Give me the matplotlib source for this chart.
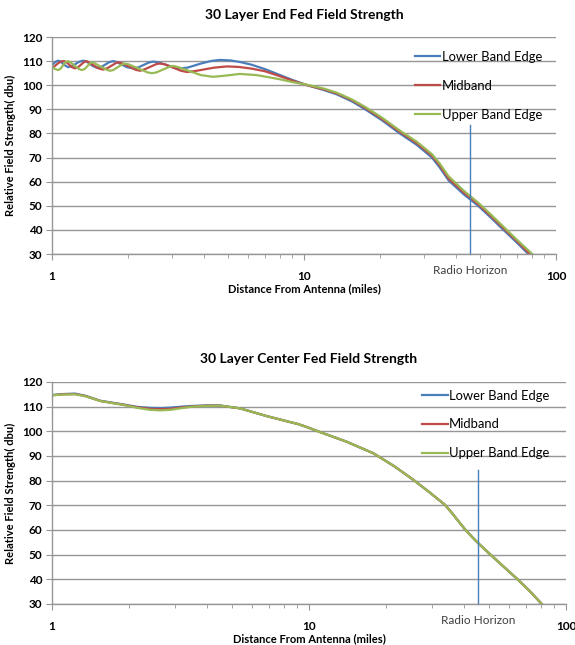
import numpy as np
import matplotlib.pyplot as plt
from matplotlib.ticker import FixedLocator, NullFormatter

plt.rcParams['font.family'] = ['Lato', 'DejaVu Sans']

# ---- 30 layer end fed (top chart) ----
end_lower_x = [1.00, 1.03, 1.056, 1.08, 1.12, 1.157, 1.20, 1.28, 1.328, 1.37, 1.45, 1.51,
               1.57, 1.69, 1.746, 1.80, 1.98, 2.095, 2.20, 2.42, 2.52, 2.65, 3.00, 3.22,
               3.45, 3.90, 4.30, 4.64, 5.10, 5.60, 6.20, 7.00, 8.00, 9.00, 10.3, 12.0,
               13.5, 15.5, 17.5, 20.5, 24.0, 28.0, 32.2, 34.5, 37.5, 43.0, 49.1, 55.0,
               61.9, 69.5, 77.7]
end_lower_y = [108.3, 109.6, 110.2, 109.9, 108.4, 107.5, 107.9, 109.7, 110.2, 109.9, 108.0, 107.2,
               107.6, 109.6, 110.0, 109.7, 107.5, 107.0, 107.4, 109.4, 109.8, 109.5, 107.6, 107.0,
               107.3, 109.0, 110.1, 110.5, 110.3, 109.6, 108.5, 106.7, 104.3, 102.2, 100.0, 98.0,
               96.2, 93.3, 90.0, 85.3, 80.0, 75.3, 70.0, 66.0, 60.5, 54.8, 50.0, 45.2,
               40.0, 35.0, 30.0]

end_mid_x = [1.00, 1.06, 1.09, 1.116, 1.14, 1.20, 1.234, 1.27, 1.34, 1.364, 1.40, 1.53,
             1.594, 1.66, 1.80, 1.83, 1.90, 2.15, 2.235, 2.33, 2.60, 2.68, 2.80, 3.25,
             3.43, 3.70, 4.40, 4.94, 5.50, 6.20, 7.00, 8.00, 9.00, 10.3, 12.0, 13.5,
             15.5, 17.5, 20.5, 24.0, 28.0, 32.2, 34.5, 37.5, 43.0, 49.1, 55.0, 61.9,
             69.5, 78.8]
end_mid_y = [107.0, 109.2, 109.9, 110.0, 109.6, 107.5, 107.0, 107.5, 109.6, 110.0, 109.5, 107.0,
             106.5, 107.1, 109.3, 109.5, 109.1, 106.4, 106.0, 106.6, 108.8, 109.0, 108.7, 106.0,
             105.5, 105.9, 107.3, 107.8, 107.6, 106.9, 105.8, 103.8, 101.9, 100.0, 98.3,
             96.6, 93.8, 90.6, 85.9, 80.7, 76.0, 70.8, 66.9, 61.3, 55.6, 50.7, 45.9, 40.7,
             35.7, 30.0]

end_upper_x = [1.00, 1.03, 1.056, 1.08, 1.13, 1.157, 1.18, 1.28, 1.315, 1.35, 1.42, 1.44,
               1.47, 1.65, 1.70, 1.75, 1.91, 1.95, 2.01, 2.40, 2.49, 2.59, 2.95, 3.02,
               3.15, 3.90, 4.35, 4.80, 5.57, 6.50, 8.00, 9.00, 10.3, 12.0, 13.5, 15.5,
               17.5, 20.5, 24.0, 28.0, 32.2, 34.5, 37.5, 43.0, 49.1, 55.0, 61.9, 69.5,
               80.5]
end_upper_y = [107.7, 106.7, 106.3, 106.8, 109.5, 110.0, 109.6, 106.7, 106.3, 106.8, 109.2, 109.5,
               109.2, 106.4, 106.0, 106.3, 108.8, 109.0, 108.7, 105.3, 105.0, 105.3, 107.8, 108.0,
               107.6, 104.2, 103.5, 103.9, 104.7, 104.2, 102.5, 101.3, 100.2, 98.6, 96.9, 94.1,
               91.0, 86.4, 81.2, 76.6, 71.4, 67.6, 62.2, 56.3, 51.3, 46.5, 41.3, 36.2,
               30.0]

# ---- 30 layer center fed (bottom chart) ----
center_x = [1.00, 1.10, 1.23, 1.35, 1.54, 1.89, 2.15, 2.41, 2.65, 2.88, 3.20, 3.54,
            4.00, 4.50, 5.39, 6.83, 8.40, 9.10, 10.0, 11.37, 14.0, 17.8, 21.5, 25.5,
            29.5, 33.8, 36.0, 38.2, 40.5, 43.0, 45.5, 50.0, 56.0, 64.2, 72.0, 80.5]
center_lower_y = [114.7, 115.1, 115.3, 114.4, 112.4, 110.9, 109.9, 109.5, 109.4, 109.6, 110.0, 110.3,
                  110.5, 110.5, 109.3, 106.2, 103.8, 102.9, 101.4, 99.2, 95.8, 91.1, 85.8, 80.3,
                  75.2, 70.2, 66.9, 63.5, 60.2, 57.3, 54.7, 50.7, 46.0, 40.4, 35.4, 30.0]
center_mid_y = [114.6, 115.0, 115.1, 114.3, 112.3, 110.8, 109.7, 109.1, 109.0, 109.1, 109.7, 110.1,
                110.4, 110.4, 109.3, 106.2, 103.8, 102.9, 101.4, 99.2, 95.8, 91.1, 85.8, 80.3,
                75.2, 70.2, 66.9, 63.5, 60.2, 57.3, 54.7, 50.7, 46.0, 40.4, 35.4, 30.0]
center_upper_y = [114.6, 114.9, 115.0, 114.2, 112.3, 110.7, 109.5, 108.7, 108.5, 108.7, 109.4, 110.0,
                  110.3, 110.4, 109.3, 106.2, 103.8, 102.9, 101.4, 99.2, 95.8, 91.1, 85.8, 80.3,
                  75.2, 70.2, 66.9, 63.5, 60.2, 57.3, 54.7, 50.7, 46.0, 40.4, 35.4, 30.0]

labels = ['Lower Band Edge', 'Midband', 'Upper Band Edge']
colors = ['#4a7ebb', '#be4b48', '#98b954']
y_ticks = [30, 40, 50, 60, 70, 80, 90, 100, 110, 120]
horizon_miles = [45.6, 45.5]
horizon_top = [83.5, 84.3]


def style_axes(ax, title, title_pad):
    ax.set_xscale('log')
    ax.set_xlim(1, 100)
    ax.set_ylim(30, 120)
    ax.set_yticks(y_ticks)
    ax.xaxis.set_major_locator(FixedLocator([1, 10, 100]))
    ax.xaxis.set_minor_locator(FixedLocator([m * d for d in (1, 10) for m in range(2, 10)]))
    ax.xaxis.set_minor_formatter(NullFormatter())
    ax.set_xticklabels(['1', '10', '100'])
    ax.grid(axis='y', color='#969696', linewidth=1.0)
    ax.set_axisbelow(True)
    for s in ('top', 'right'):
        ax.spines[s].set_visible(False)
    for s in ('left', 'bottom'):
        ax.spines[s].set_color('#969696')
        ax.spines[s].set_linewidth(1.0)
    ax.tick_params(axis='both', which='both', colors='#969696', labelcolor='black')
    ax.tick_params(axis='y', length=4, labelsize=8.5, pad=3)
    ax.tick_params(axis='x', which='major', length=4, labelsize=8.5, pad=8)
    ax.tick_params(axis='x', which='minor', length=3)
    for lab in ax.get_xticklabels() + ax.get_yticklabels():
        lab.set_fontweight('bold')
    ax.set_title(title, fontsize=10, fontweight='bold', pad=title_pad)
    ax.set_xlabel('Distance From Antenna (miles)', fontsize=8, fontweight='bold', labelpad=1)
    ax.set_ylabel('Relative Field Strength( dbu)', fontsize=8, fontweight='bold', labelpad=4)


fig = plt.figure(figsize=(5.75, 6.45), dpi=100)
ax1 = fig.add_axes([0.0904, 0.6062, 0.8765, 0.3364])
ax2 = fig.add_axes([0.0904, 0.0636, 0.8939, 0.3442])

ax1.plot(end_lower_x, end_lower_y, color=colors[0], lw=1.6, label=labels[0])
ax1.plot(end_mid_x, end_mid_y, color=colors[1], lw=1.6, label=labels[1])
ax1.plot(end_upper_x, end_upper_y, color=colors[2], lw=1.6, label=labels[2])

ax2.plot(center_x, center_lower_y, color=colors[0], lw=1.6, label=labels[0])
ax2.plot(center_x, center_mid_y, color=colors[1], lw=1.6, label=labels[1])
ax2.plot(center_x, center_upper_y, color=colors[2], lw=1.6, label=labels[2])

style_axes(ax1, '30 Layer End Fed Field Strength', 13)
style_axes(ax2, '30 Layer Center Fed Field Strength', 14)

for ax, hx, ht, lx, ly in ((ax1, horizon_miles[0], horizon_top[0], 0.72, 0.936),
                           (ax2, horizon_miles[1], horizon_top[1], 0.72, 0.966)):
    ax.plot([hx, hx], [30, ht], color='#4a7ebb', lw=1.0, clip_on=False)
    ax.annotate('Radio Horizon', xy=(hx, 0), xycoords=('data', 'axes fraction'),
                xytext=(0, -8), textcoords='offset points', ha='center', va='top',
                fontsize=8.5, color='#404040')
    ax.legend(loc='upper left', bbox_to_anchor=(lx, ly), frameon=False, fontsize=9.4,
              handlelength=1.95, handletextpad=0.1, labelspacing=1.3, borderpad=0,
              borderaxespad=0)

fig.savefig('out.png', dpi=100)
